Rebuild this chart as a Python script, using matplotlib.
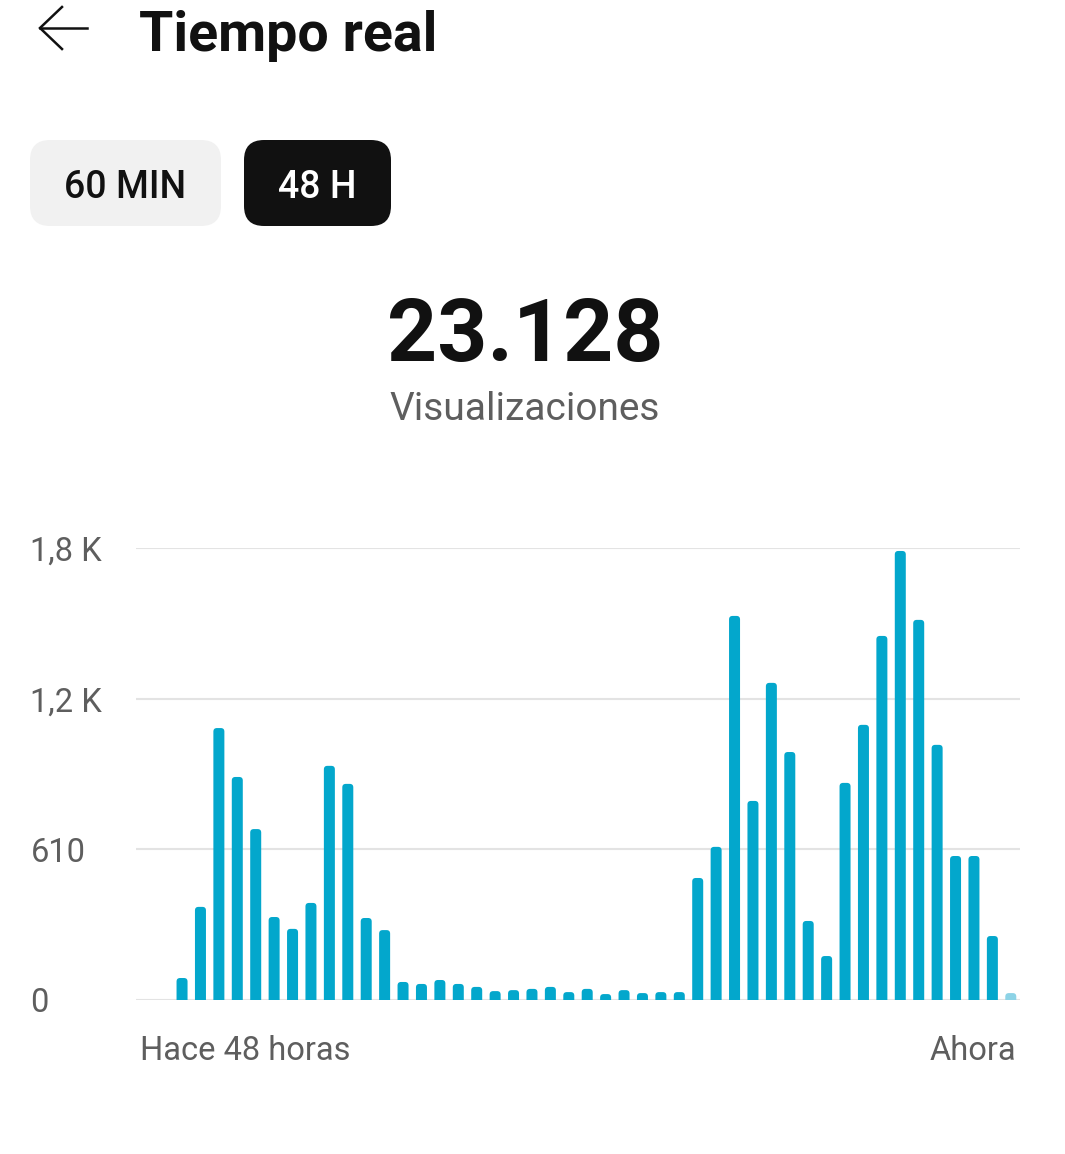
# Standard libs:
import matplotlib
matplotlib.use("Agg")
import matplotlib.pyplot as plt
from matplotlib.patches import FancyBboxPatch
from matplotlib.lines import Line2D
from matplotlib.transforms import IdentityTransform

# Data (views per hour, last 48 hours):
hours = list(range(48))
views = [0, 0, 89, 377, 1101, 903, 692, 336, 288, 393, 948, 875, 332, 283,
         73, 65, 81, 65, 53, 36, 40, 45, 53, 32, 45, 24, 40, 28, 32, 32,
         494, 620, 1555, 806, 1284, 1004, 320, 178, 879, 1114, 1474, 1818,
         1539, 1033, 583, 583, 259, 28]
y_ticks = [0, 610, 1220, 1830]
y_tick_labels = ["0", "610", "1,2 K", "1,8 K"]
x_tick_labels = ["Hace 48 horas", "Ahora"]
total_label = "23.128"

W, H = 1065, 1154
BLUE = "#03A7CC"
LIGHT_BLUE = "#8DD3E6"
GREY_TXT = "#5E5E5E"


def fx(x):
    return x / W


def fy(y):
    return 1 - y / H


def main():
    """Main plotting."""
    plt.rcParams['font.family'] = ['Roboto', 'DejaVu Sans']
    fig = plt.figure(figsize=(W / 100, H / 100), dpi=100)
    fig.patch.set_facecolor("white")

    # Header:
    fig.add_artist(Line2D([fx(40), fx(87)], [fy(28), fy(28)], color="#111111", lw=1.8))
    fig.add_artist(Line2D([fx(62), fx(40), fx(62)], [fy(7), fy(28), fy(49)],
                          color="#111111", lw=1.8, solid_joinstyle="miter"))
    fig.text(fx(139), fy(36), "Tiempo real", fontsize=40, fontweight="bold",
             color="#111111", ha="left", va="center")

    # Buttons:
    for (x0, x1, face, txt, tc) in [(30, 221, "#F1F1F1", "60 MIN", "#111111"),
                                    (244, 391, "#111111", "48 H", "white")]:
        box = FancyBboxPatch((x0, H - 226), x1 - x0, 86,
                             boxstyle="round,pad=0,rounding_size=20",
                             transform=IdentityTransform(), facecolor=face,
                             edgecolor="none")
        fig.add_artist(box)
        fig.text(fx((x0 + x1) / 2), fy(187), txt, fontsize=27, fontweight="medium",
                 color=tc, ha="center", va="center")

    # Total:
    fig.text(fx(525), fy(337), total_label, fontsize=63, fontweight="bold",
             color="#111111", ha="center", va="center")
    fig.text(fx(525), fy(409), "Visualizaciones", fontsize=28, color=GREY_TXT,
             ha="center", va="center")

    # Chart:
    left, right, top, bottom = 136, 1020, 548, 1000
    ax = fig.add_axes([fx(left), fy(bottom), (right - left) / W, (bottom - top) / H])
    ax.set_xlim(-0.5, 47.5)
    ax.set_ylim(0, 1830)

    px_x = (right - left) / 48.0
    px_y = (bottom - top) / 1830.0
    aspect = (1 / px_y) / (1 / px_x)
    r_x = 3.5 / px_x
    r_y = 3.5 / px_y
    width = 11.0 / px_x

    for i, (h, v) in enumerate(zip(hours, views)):
        if v <= 0:
            continue
        color = LIGHT_BLUE if i == len(views) - 1 else BLUE
        bar = FancyBboxPatch((h - width / 2, -r_y), width, v + r_y,
                             boxstyle="round,pad=0,rounding_size=%f" % r_x,
                             mutation_aspect=aspect, facecolor=color,
                             edgecolor="none", zorder=3)
        ax.add_patch(bar)

    ax.set_yticks(y_ticks)
    ax.set_yticklabels(y_tick_labels)
    ax.grid(axis="y", color="#E3E3E3", lw=1.5, zorder=0)
    ax.tick_params(axis="y", length=0, pad=76, labelsize=23.5, labelcolor=GREY_TXT)
    for lab in ax.get_yticklabels():
        lab.set_horizontalalignment("left")

    ax.set_xticks([-0.3, 47.3])
    ax.set_xticklabels(x_tick_labels)
    ax.tick_params(axis="x", length=0, pad=25, labelsize=23.5, labelcolor=GREY_TXT)
    xl = ax.get_xticklabels()
    xl[0].set_horizontalalignment("left")
    xl[1].set_horizontalalignment("right")

    for s in ax.spines.values():
        s.set_visible(False)

    fig.savefig("out.png", dpi=100, facecolor="white")


# Main:
if __name__ == "__main__":
    main()
